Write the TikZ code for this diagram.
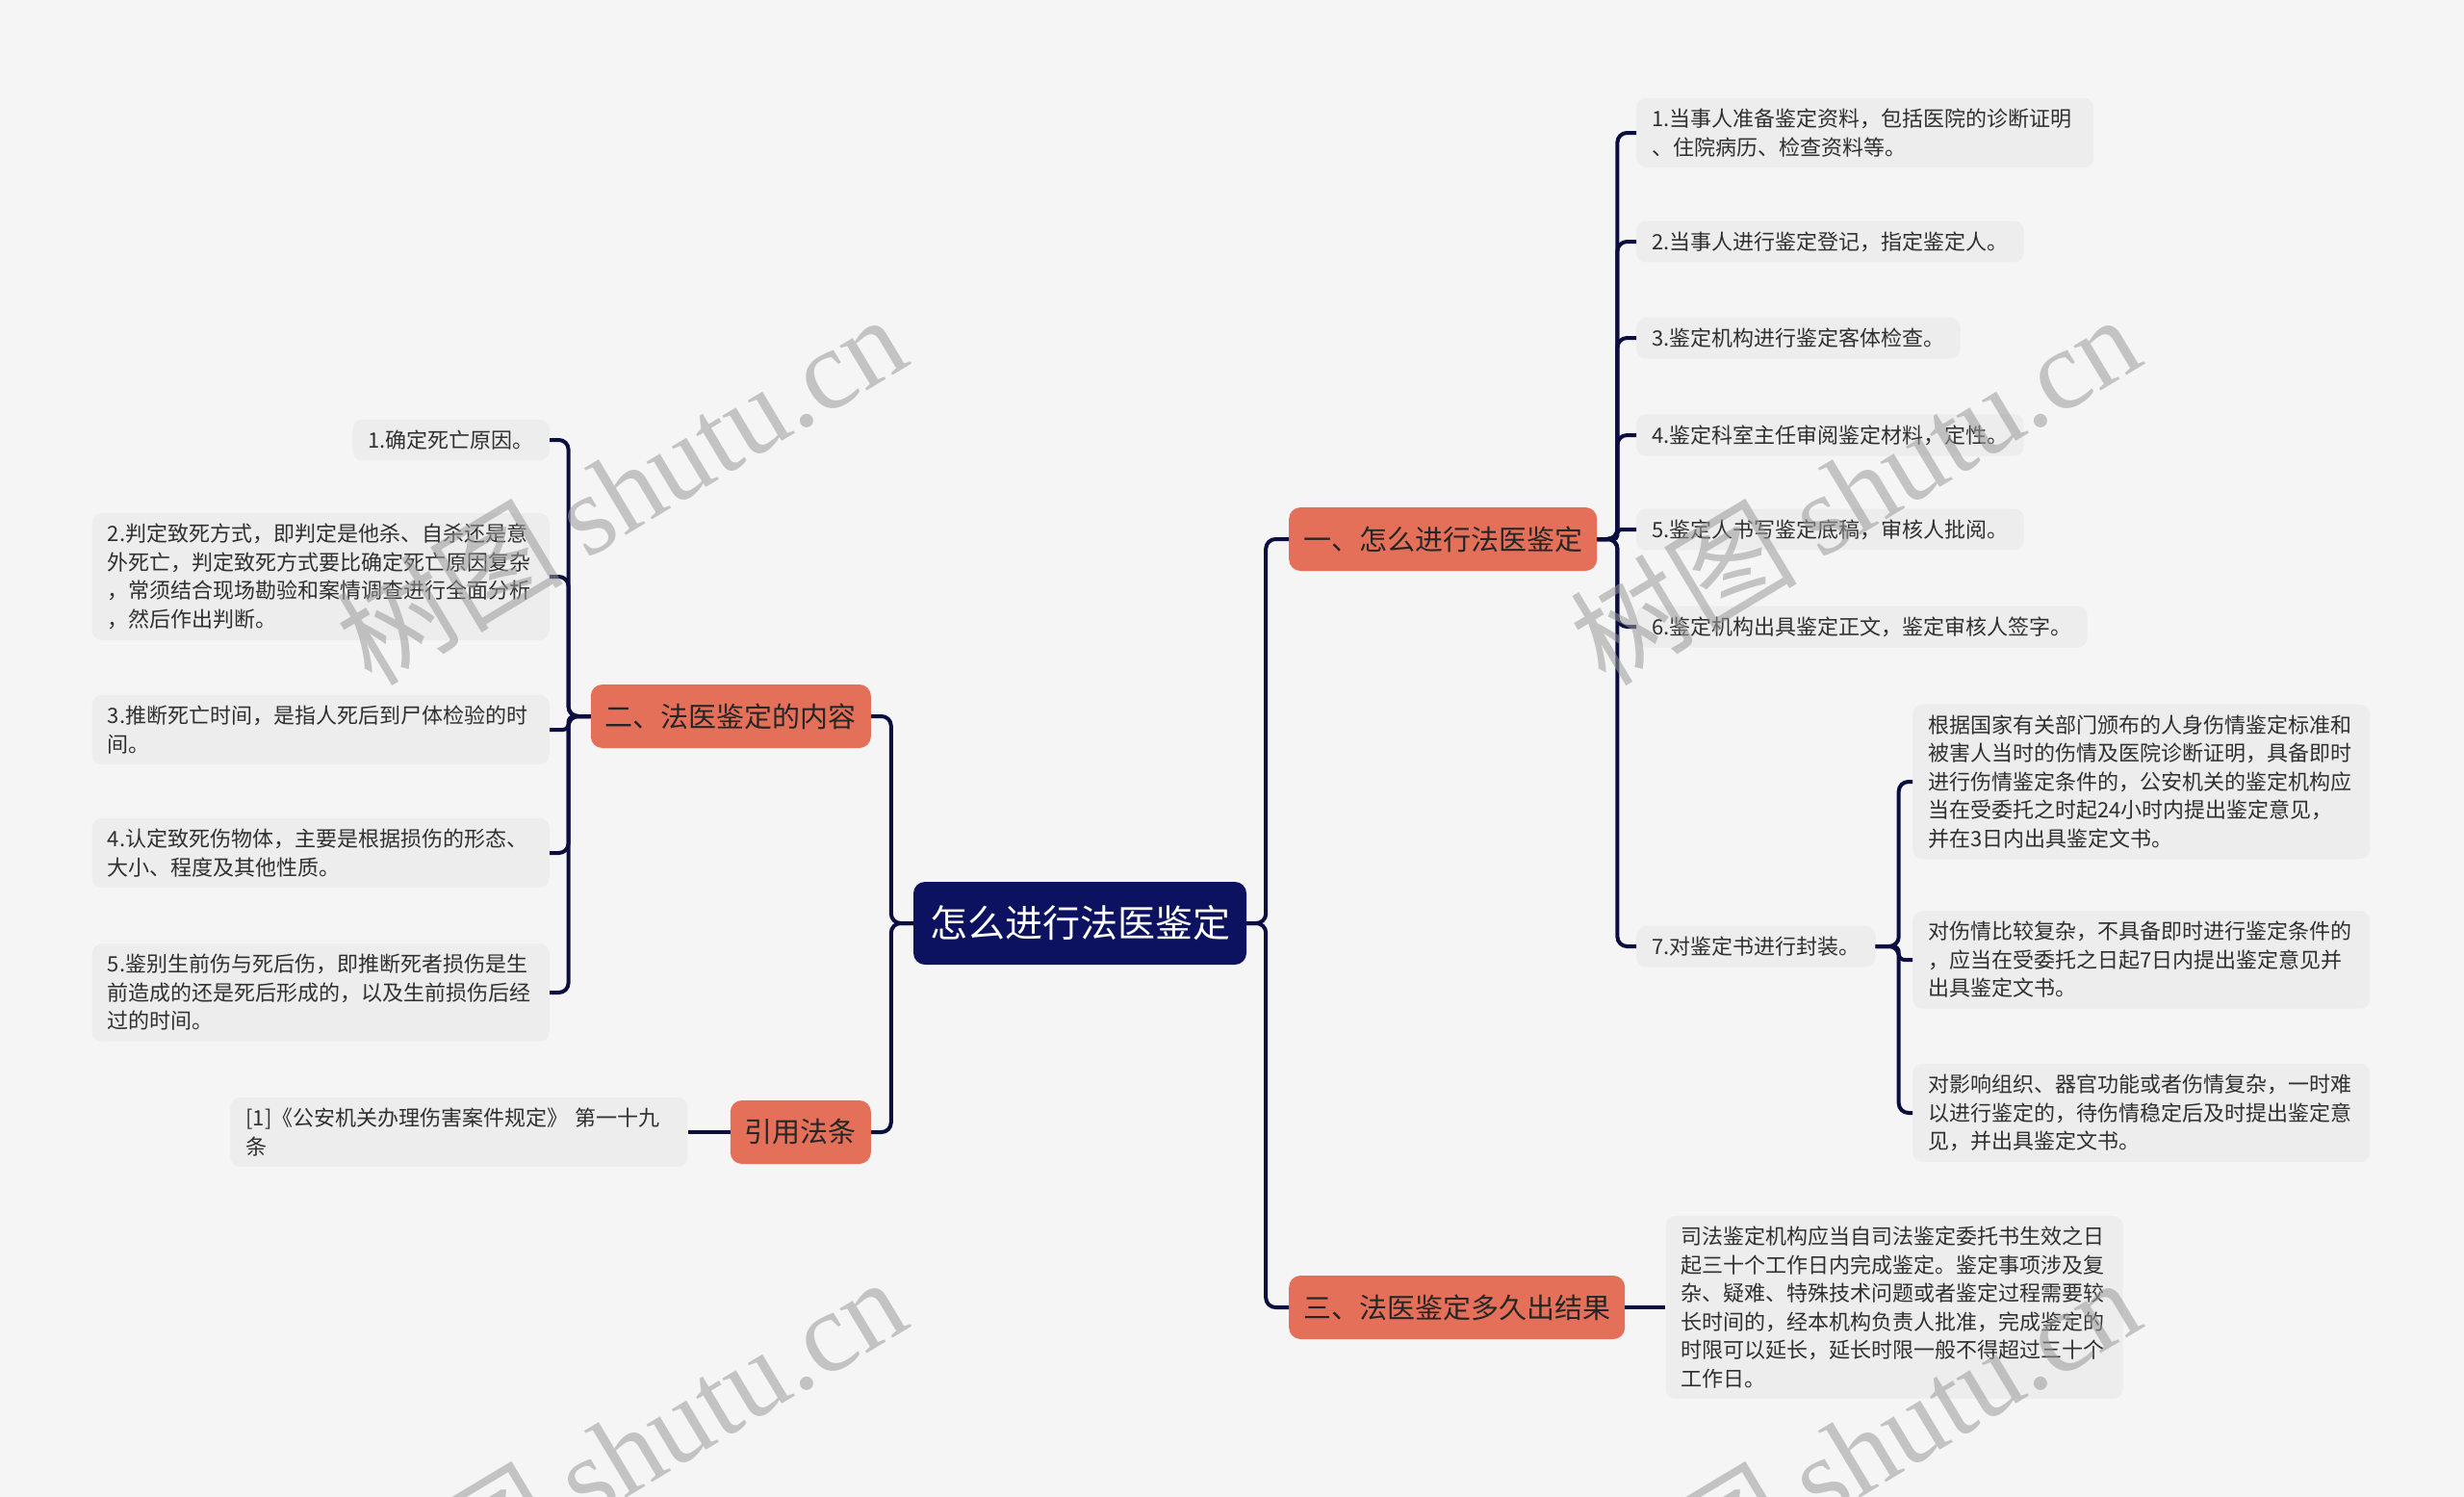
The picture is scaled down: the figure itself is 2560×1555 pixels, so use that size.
\documentclass[tikz,border=0pt]{standalone}
\usepackage{fontspec}
\setmainfont{Noto Sans CJK SC}
\newfontfamily\wmlatin{Liberation Serif}
\usetikzlibrary{positioning}

\definecolor{bgcol}{HTML}{F5F5F5}
\definecolor{leafcol}{HTML}{EDEDED}
\definecolor{topiccol}{HTML}{E4705A}
\definecolor{rootcol}{HTML}{0C1160}
\definecolor{linkcol}{HTML}{0B0E3F}
\definecolor{txtcol}{HTML}{303030}
\definecolor{wmcol}{HTML}{9A9A9A}

\begin{document}
\begin{tikzpicture}[
    x=1pt, y=-1pt,
    box/.style={rounded corners=10pt, inner xsep=16pt, inner ysep=11pt, align=left,
                text=txtcol, font=\fontsize{22}{29.5}\selectfont},
    leaf/.style={box, fill=leafcol},
    wide/.style={leaf, text width=443pt},
    topic/.style={rounded corners=12pt, fill=topiccol, text=black!85, inner xsep=15pt,
                  minimum height=66pt, font=\fontsize{29}{34}\selectfont},
    root/.style={topic, fill=rootcol, text=white, inner xsep=17pt, minimum height=86pt,
                 font=\fontsize{39}{44}\selectfont},
    link/.style={draw=linkcol, line width=4pt, rounded corners=10pt},
    wmark/.style={rotate=31, anchor=base east, text=wmcol, text opacity=0.55,
                  font=\fontsize{118}{120}\selectfont},
]
\fill[bgcol] (0,0) rectangle (2560,1555);
\useasboundingbox (0,0) rectangle (2560,1555);

% --- Root and main topics ---
\node[root]                    (root) at (1122,959) {怎么进行法医鉴定};
\node[topic, anchor=west]      (b1)   at (1339,560) {一、怎么进行法医鉴定};
\node[topic, anchor=east]      (b2)   at (905,744)  {二、法医鉴定的内容};
\node[topic, anchor=east]      (b3)   at (905,1176) {引用法条};
\node[topic, anchor=west]      (b4)   at (1339,1358) {三、法医鉴定多久出结果};

% --- Right: steps of the appraisal ---
\node[wide, anchor=west] (l1) at (1700,138) {1.当事人准备鉴定资料，包括医院的诊断证明\\、住院病历、检查资料等。};
\node[leaf, anchor=west] (l2) at (1700,251) {2.当事人进行鉴定登记，指定鉴定人。};
\node[leaf, anchor=west] (l3) at (1700,351) {3.鉴定机构进行鉴定客体检查。};
\node[leaf, anchor=west] (l4) at (1700,452) {4.鉴定科室主任审阅鉴定材料，定性。};
\node[leaf, anchor=west] (l5) at (1700,550) {5.鉴定人书写鉴定底稿，审核人批阅。};
\node[leaf, anchor=west] (l6) at (1700,651) {6.鉴定机构出具鉴定正文，鉴定审核人签字。};
\node[leaf, anchor=west] (l7) at (1700,983) {7.对鉴定书进行封装。};

\node[wide, anchor=west] (s1) at (1987,812)  {根据国家有关部门颁布的人身伤情鉴定标准和\\被害人当时的伤情及医院诊断证明，具备即时\\进行伤情鉴定条件的，公安机关的鉴定机构应\\当在受委托之时起24小时内提出鉴定意见，\\并在3日内出具鉴定文书。};
\node[wide, anchor=west] (s2) at (1987,997)  {对伤情比较复杂，不具备即时进行鉴定条件的\\，应当在受委托之日起7日内提出鉴定意见并\\出具鉴定文书。};
\node[wide, anchor=west] (s3) at (1987,1156) {对影响组织、器官功能或者伤情复杂，一时难\\以进行鉴定的，待伤情稳定后及时提出鉴定意\\见，并出具鉴定文书。};

\node[wide, right=42pt of b4] (b4txt) {司法鉴定机构应当自司法鉴定委托书生效之日\\起三十个工作日内完成鉴定。鉴定事项涉及复\\杂、疑难、特殊技术问题或者鉴定过程需要较\\长时间的，经本机构负责人批准，完成鉴定的\\时限可以延长，延长时限一般不得超过三十个\\工作日。};

% --- Left: contents of the appraisal ---
\node[leaf, anchor=east] (m1) at (571,457)  {1.确定死亡原因。};
\node[wide, anchor=east] (m2) at (571,599)  {2.判定致死方式，即判定是他杀、自杀还是意\\外死亡，判定致死方式要比确定死亡原因复杂\\，常须结合现场勘验和案情调查进行全面分析\\，然后作出判断。};
\node[wide, anchor=east] (m3) at (571,758)  {3.推断死亡时间，是指人死后到尸体检验的时\\间。};
\node[wide, anchor=east] (m4) at (571,886)  {4.认定致死伤物体，主要是根据损伤的形态、\\大小、程度及其他性质。};
\node[wide, anchor=east] (m5) at (571,1031) {5.鉴别生前伤与死后伤，即推断死者损伤是生\\前造成的还是死后形成的，以及生前损伤后经\\过的时间。};

\node[wide, left=44pt of b3] (ref) {[1]《公安机关办理伤害案件规定》 第一十九\\条};

% --- Connectors ---
\draw[link] (root.east) -- ++(20,0) |- (b1.west);
\draw[link] (root.east) -- ++(20,0) |- (b4.west);
\draw[link] (root.west) -- ++(-23,0) |- (b2.east);
\draw[link] (root.west) -- ++(-23,0) |- (b3.east);
\foreach \i in {1,2,3,4,6,7}
  \draw[link] (b1.east) -- ++(21,0) |- (l\i.west);
\draw[link, rounded corners=4pt] (b1.east) -- ++(21,0) |- (l5.west);
\foreach \i in {1,3}
  \draw[link] (l7.east) -- ++(24,0) |- (s\i.west);
\draw[link, rounded corners=6pt] (l7.east) -- ++(24,0) |- (s2.west);
\foreach \i in {1,2,4,5}
  \draw[link] (b2.west) -- ++(-23,0) |- (m\i.east);
\draw[link, rounded corners=6pt] (b2.west) -- ++(-23,0) |- (m3.east);
\draw[link] (b3) -- (ref);
\draw[link] (b4) -- (b4txt);

% --- Watermarks ---
\node[wmark] (wm1) at (952,375)   {树图\hspace{0.2em}\wmlatin shutu.cn};
\node[wmark] (wm2) at (2234,375)  {树图\hspace{0.2em}\wmlatin shutu.cn};
\node[wmark] (wm3) at (952,1375)  {树图\hspace{0.2em}\wmlatin shutu.cn};
\node[wmark] (wm4) at (2234,1375) {树图\hspace{0.2em}\wmlatin shutu.cn};
\end{tikzpicture}
\end{document}
